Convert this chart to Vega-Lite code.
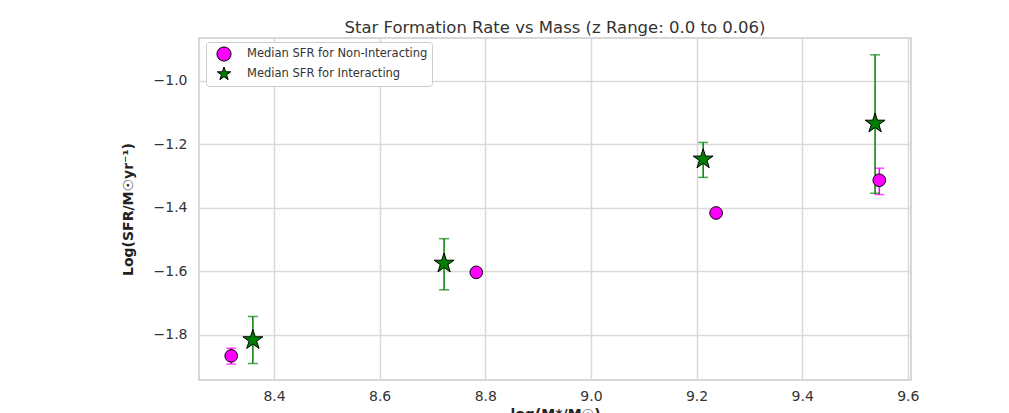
{
  "$schema": "https://vega.github.io/schema/vega-lite/v6.json",
  "width": 712,
  "height": 342,
  "autosize": "none",
  "padding": {"left": 199, "top": 38, "right": 98, "bottom": 33},
  "background": "white",
  "config": {
    "font": "DejaVu Sans",
    "view": {"stroke": "#cccccc", "strokeWidth": 1.5},
    "axis": {
      "domain": false,
      "ticks": false,
      "grid": true,
      "gridColor": "#d9d9d9",
      "gridWidth": 1.5,
      "labelFont": "DejaVu Sans",
      "labelFontSize": 14,
      "labelColor": "#333333",
      "titleFont": "DejaVu Sans",
      "titleColor": "#222222"
    },
    "legend": {
      "title": null,
      "orient": "none",
      "legendX": 7,
      "legendY": 4,
      "padding": 4,
      "strokeColor": "#cccccc",
      "fillColor": "white",
      "cornerRadius": 3,
      "labelFont": "DejaVu Sans",
      "labelFontSize": 11.5,
      "labelColor": "#333333",
      "labelLimit": 400,
      "labelOffset": 15,
      "symbolOffset": 6,
      "rowPadding": 0,
      "symbolSize": 200,
      "symbolStrokeColor": "black",
      "symbolStrokeWidth": 1,
      "symbolOpacity": 1
    }
  },
  "title": {
    "text": "Star Formation Rate vs Mass (z Range: 0.0 to 0.06)",
    "font": "DejaVu Sans",
    "fontSize": 16.5,
    "fontWeight": "normal",
    "color": "#333333",
    "offset": 2
  },
  "data": {
    "values": [
      {"group": "Median SFR for Non-Interacting", "mass": 8.319, "sfr": -1.866, "lo": -1.892, "hi": -1.842},
      {"group": "Median SFR for Non-Interacting", "mass": 8.783, "sfr": -1.603, "lo": -1.608, "hi": -1.598},
      {"group": "Median SFR for Non-Interacting", "mass": 9.237, "sfr": -1.416, "lo": -1.420, "hi": -1.412},
      {"group": "Median SFR for Non-Interacting", "mass": 9.546, "sfr": -1.313, "lo": -1.358, "hi": -1.275},
      {"group": "Median SFR for Interacting", "mass": 8.360, "sfr": -1.816, "lo": -1.890, "hi": -1.742},
      {"group": "Median SFR for Interacting", "mass": 8.722, "sfr": -1.575, "lo": -1.658, "hi": -1.497},
      {"group": "Median SFR for Interacting", "mass": 9.2125, "sfr": -1.247, "lo": -1.304, "hi": -1.194},
      {"group": "Median SFR for Interacting", "mass": 9.538, "sfr": -1.134, "lo": -1.354, "hi": -0.918}
    ]
  },
  "layer": [
    {
      "transform": [{"filter": "datum.group === 'Median SFR for Non-Interacting'"}],
      "mark": {"type": "errorbar", "color": "#ff00ff", "thickness": 1.5, "ticks": {"size": 10, "thickness": 1.5, "color": "#ff00ff"}},
      "encoding": {
        "x": {
          "field": "mass",
          "type": "quantitative",
          "title": "log(M*/M☉)",
          "scale": {"domain": [8.258, 9.606], "nice": false, "zero": false},
          "axis": {
            "orient": "bottom",
            "values": [8.4, 8.6, 8.8, 9.0, 9.2, 9.4, 9.6],
            "format": ".1f",
            "labelPadding": 9,
            "titleFontSize": 14,
            "titleFontWeight": "bold",
            "titlePadding": 4
          }
        },
        "y": {
          "field": "lo",
          "type": "quantitative",
          "title": "Log(SFR/M☉yr⁻¹)",
          "scale": {"domain": [-1.942, -0.865], "nice": false, "zero": false},
          "axis": {
            "orient": "left",
            "values": [-1.8, -1.6, -1.4, -1.2, -1.0],
            "format": ".1f",
            "labelPadding": 12,
            "titleFontSize": 14,
            "titleFontWeight": "bold",
            "titlePadding": 18
          }
        },
        "y2": {"field": "hi"}
      }
    },
    {
      "transform": [{"filter": "datum.group === 'Median SFR for Interacting'"}],
      "mark": {"type": "errorbar", "color": "#008000", "thickness": 1.5, "ticks": {"size": 10, "thickness": 1.5, "color": "#008000"}},
      "encoding": {
        "x": {"field": "mass", "type": "quantitative", "title": "log(M*/M☉)"},
        "y": {"field": "lo", "type": "quantitative", "title": "Log(SFR/M☉yr⁻¹)"},
        "y2": {"field": "hi"}
      }
    },
    {
      "transform": [{"filter": "datum.group === 'Median SFR for Non-Interacting'"}],
      "mark": {"type": "point", "filled": true, "stroke": "black", "strokeWidth": 1, "opacity": 1, "size": 160},
      "encoding": {
        "x": {"field": "mass", "type": "quantitative", "title": "log(M*/M☉)"},
        "y": {"field": "sfr", "type": "quantitative", "title": "Log(SFR/M☉yr⁻¹)"},
        "color": {
          "field": "group",
          "type": "nominal",
          "title": null,
          "scale": {"domain": ["Median SFR for Non-Interacting", "Median SFR for Interacting"], "range": ["#ff00ff", "#008000"]},
          "legend": {
            "symbolStrokeColor": "black",
            "symbolStrokeWidth": 1,
            "encode": {"symbols": {"update": {"stroke": {"value": "black"}, "strokeWidth": {"value": 1}}}}
          }
        },
        "shape": {
          "field": "group",
          "type": "nominal",
          "title": null,
          "scale": {"domain": ["Median SFR for Non-Interacting", "Median SFR for Interacting"], "range": ["circle", "M0,-1L0.2245,-0.309L0.951,-0.309L0.363,0.118L0.588,0.809L0,0.382L-0.588,0.809L-0.363,0.118L-0.951,-0.309L-0.2245,-0.309Z"]},
          "legend": {
            "symbolStrokeColor": "black",
            "symbolStrokeWidth": 1,
            "encode": {"symbols": {"update": {"stroke": {"value": "black"}, "strokeWidth": {"value": 1}}}}
          }
        }
      }
    },
    {
      "transform": [{"filter": "datum.group === 'Median SFR for Interacting'"}],
      "mark": {"type": "point", "filled": true, "stroke": "black", "strokeWidth": 1, "opacity": 1, "size": 440},
      "encoding": {
        "x": {"field": "mass", "type": "quantitative", "title": "log(M*/M☉)"},
        "y": {"field": "sfr", "type": "quantitative", "title": "Log(SFR/M☉yr⁻¹)"},
        "color": {"field": "group", "type": "nominal", "title": null},
        "shape": {"field": "group", "type": "nominal", "title": null}
      }
    }
  ]
}
